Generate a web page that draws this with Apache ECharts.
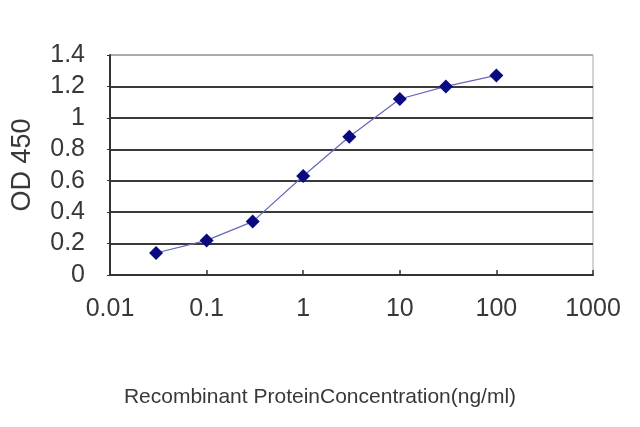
<!DOCTYPE html>
<html>
<head>
<meta charset="utf-8">
<script src="https://cdn.jsdelivr.net/npm/echarts@6/dist/echarts.min.js"></script>
<style>
html,body{margin:0;padding:0;background:#fff;}
#c{width:640px;height:427px;}
</style>
</head>
<body>
<div id="c"></div>
<script>
const concentrations = [0.03, 0.1, 0.3, 1, 3, 10, 30, 100];
const od450 = [0.14, 0.22, 0.34, 0.63, 0.88, 1.12, 1.20, 1.27];
const xTickLabels = ['0.01', '0.1', '1', '10', '100', '1000'];
const yTickLabels = ['0', '0.2', '0.4', '0.6', '0.8', '1', '1.2', '1.4'];
const xTitle = 'Recombinant ProteinConcentration(ng/ml)';
const yTitle = 'OD 450';

const chart = echarts.init(document.getElementById('c'));
const font = 'Liberation Sans, Arial, sans-serif';
chart.setOption({
  backgroundColor: '#fff',
  animation: false,
  title: {
    text: xTitle,
    left: 'center',
    top: 382,
    textStyle: {
      fontFamily: 'Liberation Sans Narrow, Liberation Sans, Arial, sans-serif',
      fontSize: 21,
      fontWeight: 'normal',
      color: '#383838'
    }
  },
  grid: {
    left: 110, right: 47, top: 55, bottom: 152,
    show: true, borderColor: '#aaa', borderWidth: 1, backgroundColor: 'transparent'
  },
  xAxis: {
    type: 'log',
    logBase: 10,
    min: 0.01,
    max: 1000,
    axisLine: { show: true, lineStyle: { color: '#333', width: 2 } },
    axisTick: { show: true, inside: true, length: 5, lineStyle: { color: '#333', width: 1.5 } },
    splitLine: { show: false },
    minorTick: { show: false },
    axisLabel: {
      margin: 22,
      fontFamily: font,
      fontSize: 25,
      color: '#383838',
      formatter: function (v) {
        const i = Math.round(Math.log10(v)) + 2;
        return xTickLabels[i] !== undefined ? xTickLabels[i] : '';
      }
    }
  },
  yAxis: {
    type: 'value',
    min: 0,
    max: 1.4,
    interval: 0.2,
    name: yTitle,
    nameLocation: 'middle',
    nameGap: 74,
    nameRotate: 90,
    nameTextStyle: { fontFamily: font, fontSize: 27, color: '#383838' },
    axisLine: { show: true, lineStyle: { color: '#333', width: 2 } },
    axisTick: { show: true, length: 3, lineStyle: { color: '#333' } },
    splitLine: {
      show: true,
      lineStyle: {
        color: ['#333', '#3a3a3a', '#3a3a3a', '#3a3a3a', '#3a3a3a', '#3a3a3a', '#3a3a3a', '#aaa'],
        width: 2
      }
    },
    axisLabel: {
      margin: 25,
      fontFamily: font,
      fontSize: 25,
      color: '#383838',
      formatter: function (v) {
        const i = Math.round(v / 0.2);
        return yTickLabels[i] !== undefined ? yTickLabels[i] : '';
      }
    }
  },
  series: [{
    type: 'line',
    data: concentrations.map((c, i) => [c, od450[i]]),
    symbol: 'diamond',
    symbolSize: 14,
    itemStyle: { color: '#0a0a80' },
    lineStyle: { color: '#6666bb', width: 1.2 }
  }]
});
</script>
</body>
</html>
